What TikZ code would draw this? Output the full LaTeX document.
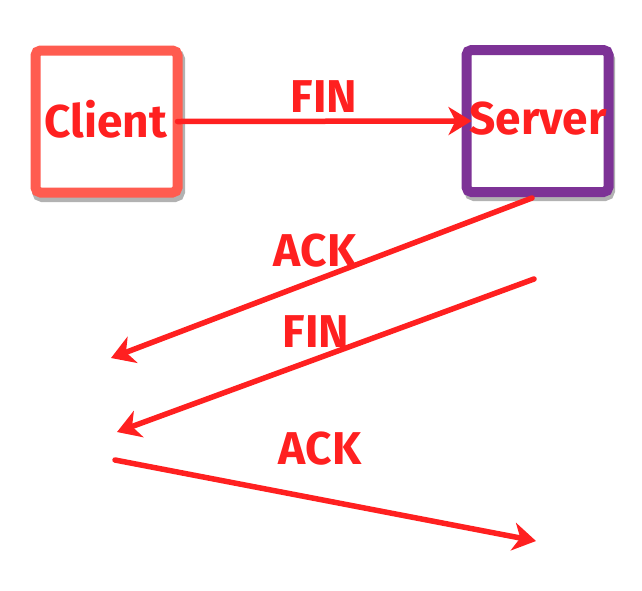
\documentclass[tikz,border=0pt]{standalone}
\usepackage{fontspec}
\setmainfont{Fira Sans}
\usetikzlibrary{arrows.meta}
\definecolor{arrowred}{RGB}{255,32,32}
\definecolor{clientcol}{RGB}{255,92,80}
\definecolor{servercol}{RGB}{125,50,150}
\begin{document}
\begin{tikzpicture}[x=1pt,y=-1pt,
  box/.style={draw, line width=10pt, rounded corners=5pt, fill=white,
    minimum width=142pt, minimum height=142pt, inner sep=0pt, outer sep=0pt},
  lbl/.style={font=\fontsize{46}{54}\selectfont\bfseries, text=arrowred, inner sep=0pt},
  msg/.style={draw=arrowred, line width=5.5pt, line cap=round,
    -{Stealth[length=23pt, width=28pt, inset=7pt]}}]
\useasboundingbox (0,0) rectangle (642,590);
% shadows
\draw[black!55, opacity=0.55, line width=10pt, rounded corners=5pt] (37,54) rectangle (180,197);
\draw[black!55, opacity=0.55, line width=10pt, rounded corners=5pt] (469,54) rectangle (610,196);
\node[box, draw=clientcol] (client) at (106.5,121.5) {};
\node[box, draw=servercol] (server) at (537.5,121) {};
\node[lbl] (clientlbl) at (106,119) {Client};
\node[lbl] (serverlbl) at (538,119) {Server};
% connectors
\coordinate (a1s) at (532,198);
\coordinate (a1e) at (111,358);
\coordinate (a2s) at (534,279);
\coordinate (a2e) at (117,432);
\coordinate (a3s) at (115,460);
\coordinate (a3e) at (536,541);
\draw[msg, shorten >=-5pt] (client.east) -- (server.west);
\draw[msg] (a1s) -- (a1e);
\draw[msg] (a2s) -- (a2e);
\draw[msg] (a3s) -- (a3e);
% labels
\node[lbl] (fin1) at (324,97) {FIN};
\node[lbl] (ack1) at (315,251) {ACK};
\node[lbl] (fin2) at (316,332) {FIN};
\node[lbl] (ack2) at (320,449) {ACK};
\end{tikzpicture}
\end{document}
